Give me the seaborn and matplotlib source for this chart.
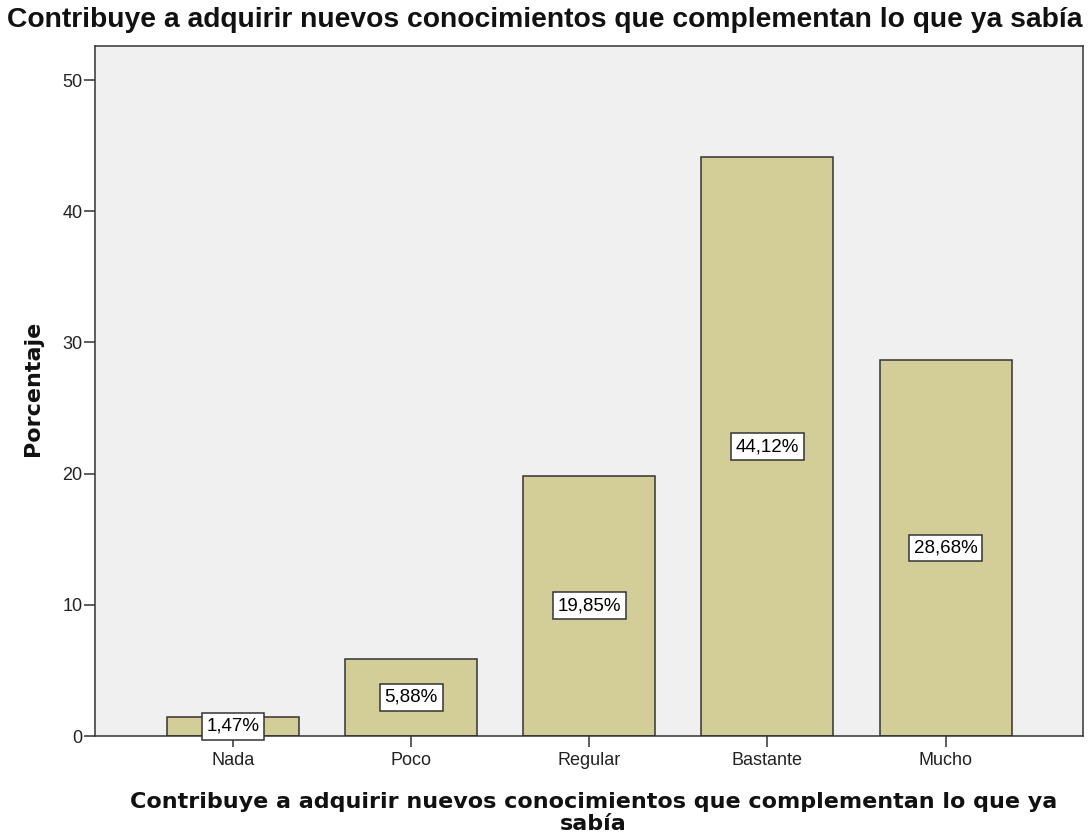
import matplotlib
matplotlib.use("Agg")
import matplotlib.pyplot as plt
import seaborn as sns
import pandas as pd

categories = ["Nada", "Poco", "Regular", "Bastante", "Mucho"]
values = [1.47, 5.88, 19.85, 44.12, 28.68]
labels = ["1,47%", "5,88%", "19,85%", "44,12%", "28,68%"]
yticks = [0, 10, 20, 30, 40, 50]

title = "Contribuye a adquirir nuevos conocimientos que complementan lo que ya sabía"
xlabel = "Contribuye a adquirir nuevos conocimientos que complementan lo que ya\nsabía"
ylabel = "Porcentaje"

sns.set_style("white")
plt.rcParams['font.family'] = ['Liberation Sans', 'DejaVu Sans']

df = pd.DataFrame({"cat": categories, "val": values})

fig = plt.figure(figsize=(10.9, 8.4), dpi=100)
ax = fig.add_axes([0.0872, 0.1238, 0.9064, 0.8214])
ax.set_facecolor("#f0f0f0")

sns.barplot(data=df, x="cat", y="val", order=categories, color="#d3ce97",
            saturation=1, width=0.741, edgecolor="#333333", linewidth=1.1, ax=ax)

for i, (v, lab) in enumerate(zip(values, labels)):
    ax.text(i, v / 2, lab, ha="center", va="center", fontsize=13.5, color="black",
            bbox=dict(boxstyle="square,pad=0.26", facecolor="white", edgecolor="#333333", linewidth=1.1),
            zorder=5)

ax.set_xlim(-0.775, 4.772)
ax.set_ylim(0, 52.6)
ax.set_yticks(yticks)
ax.set_yticklabels([str(t) for t in yticks])
ax.tick_params(axis="both", direction="out", length=8, width=1.1, color="#333333",
               labelsize=13, labelcolor="#222222", left=True, bottom=True)
ax.tick_params(axis="y", pad=1)
ax.tick_params(axis="x", pad=3.4)
for s in ax.spines.values():
    s.set_color("#333333")
    s.set_linewidth(1.1)

ax.set_xlabel(xlabel, fontsize=16, fontweight="bold", family="DejaVu Sans",
              linespacing=1.1, va="top", color="#111111")
ax.xaxis.set_label_coords(0.5045, -0.0815)
ax.set_ylabel(ylabel, fontsize=16, fontweight="bold", family="DejaVu Sans", color="#111111")
ax.yaxis.set_label_coords(-0.053, 0.5036)
fig.text(0.5, 0.9917, title, ha="center", va="top", fontsize=20.3, fontweight="bold",
         color="#111111")

fig.savefig("out.png", dpi=100, facecolor="white")
